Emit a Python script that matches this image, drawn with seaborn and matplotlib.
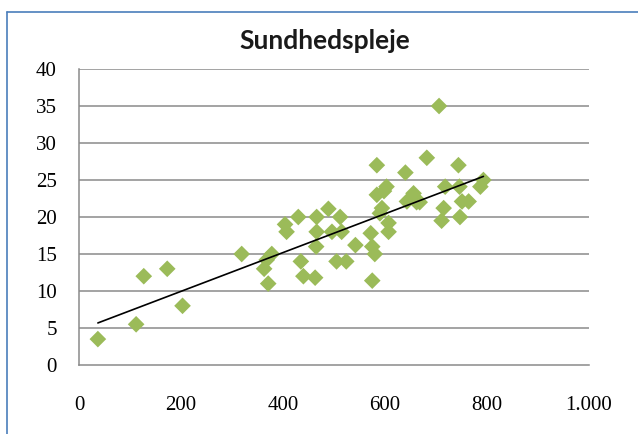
import matplotlib
matplotlib.use("Agg")
import matplotlib.pyplot as plt
from matplotlib.lines import Line2D
import seaborn as sns
import pandas as pd

title = "Sundhedspleje"
x_vals = [37, 112, 127, 173, 203, 319, 363, 368, 371, 378, 404, 407, 430, 435,
          440, 463, 466, 466, 465, 489, 496, 512, 515, 505, 524, 542, 572, 575,
          575, 580, 584, 584, 590, 594, 598, 603, 607, 607, 640, 643, 656, 662,
          668, 682, 706, 711, 715, 718, 744, 746, 747, 751, 764, 787, 793]
y_vals = [3.5, 5.5, 12, 13, 8, 15, 13, 14.2, 11, 15, 19, 18, 20, 14,
          12, 11.8, 20, 18, 16, 21.1, 18, 20, 18, 14, 14, 16.2, 17.8, 16,
          11.4, 15, 27, 23, 20.5, 21.2, 23.5, 24.1, 19.2, 18, 26, 22.1, 23.2, 22,
          22, 28, 35, 19.5, 21.2, 24.1, 27, 24.1, 20, 22.1, 22.1, 24.1, 25]
x_ticks = [0, 200, 400, 600, 800, 1000]
x_tick_labels = ["0", "200", "400", "600", "800", "1.000"]
y_ticks = [0, 5, 10, 15, 20, 25, 30, 35, 40]

df = pd.DataFrame({"x": x_vals, "y": y_vals})

sns.set_style("white")
plt.rcParams["font.family"] = ["Liberation Serif", "DejaVu Serif"]

W, H = 638, 434
fig = plt.figure(figsize=(W / 100, H / 100), dpi=100)
ax = fig.add_axes([79 / W, 1 - 365 / H, 510 / W, 296 / H])

grid_c = "#8a8a8a"
for yv in y_ticks[1:]:
    ax.axhline(yv, color=grid_c, lw=1.1, zorder=0)

sns.scatterplot(data=df, x="x", y="y", marker="D", s=72, color="#9BBB59",
                edgecolor="none", linewidth=0, ax=ax, zorder=3)
sns.regplot(data=df, x="x", y="y", scatter=False, ci=None, ax=ax,
            line_kws={"color": "black", "lw": 1.2, "zorder": 4})

ax.set_xlim(0, 1000)
ax.set_ylim(0, 40)
ax.set_xticks(x_ticks)
ax.set_xticklabels(x_tick_labels)
ax.set_yticks(y_ticks)
ax.set_xlabel("")
ax.set_ylabel("")
for s in ["top", "right"]:
    ax.spines[s].set_visible(False)
for s in ["left", "bottom"]:
    ax.spines[s].set_color(grid_c)
    ax.spines[s].set_linewidth(1.1)
ax.tick_params(axis="both", which="both", direction="out", length=4,
               width=1.1, color=grid_c, labelsize=15, labelcolor="black")
ax.tick_params(axis="x", pad=18)
ax.tick_params(axis="y", pad=12)

fig.text(325 / W, 1 - 41 / H, title, ha="center", va="center",
         fontsize=19, fontweight="bold", family=["Lato", "DejaVu Sans"],
         color="#1a1a1a")

border_c = "#4A7EBB"
fig.add_artist(Line2D([7 / W, 7 / W], [0, 1 - 12 / H], transform=fig.transFigure,
                      color=border_c, lw=1.2))
fig.add_artist(Line2D([7 / W, 1], [1 - 12 / H, 1 - 12 / H], transform=fig.transFigure,
                      color=border_c, lw=1.2))

fig.savefig("out.png", dpi=100, facecolor="white")
